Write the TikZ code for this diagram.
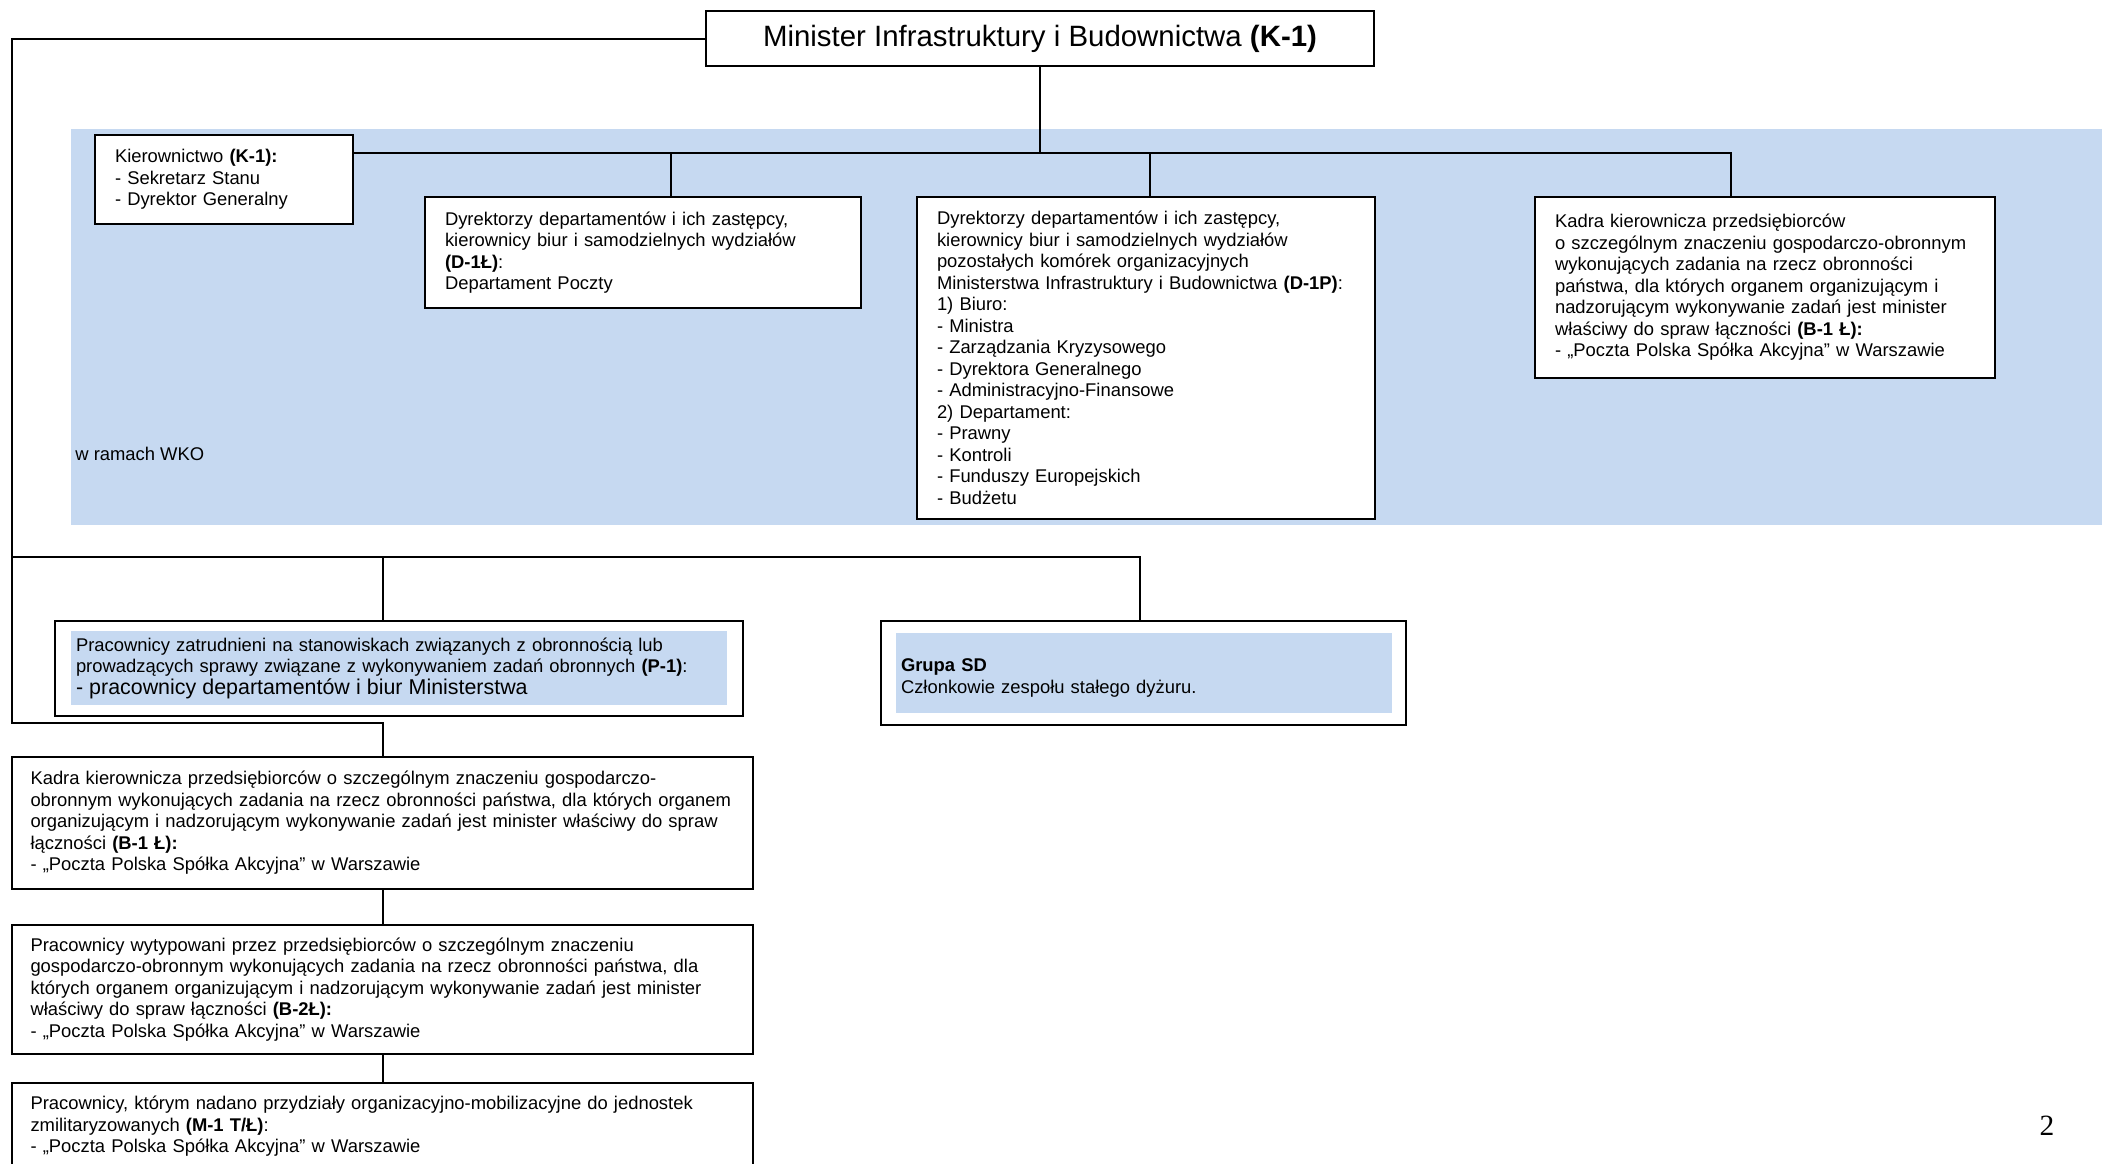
\documentclass[tikz,border=0pt]{standalone}
\usepackage{fontspec}
\setmainfont{Liberation Sans}
\newfontfamily\pagefont{Liberation Serif}
\usepackage{xcolor}
\usepackage{tikz}
\usetikzlibrary{positioning}

\definecolor{wkoblue}{RGB}{198,217,241}

\begin{document}
\begin{tikzpicture}[
		x=0.5pt, y=-0.5pt,
		headbox/.style={
			draw,
			line width=1.1pt,
			fill=white,
			anchor=north west,
			outer sep=0pt,
			minimum width=334pt,
			minimum height=27.5pt,
			inner sep=0pt,
			font=\fontsize{14.7}{17}\selectfont
		},
		orgbox/.style={
			draw,
			line width=1.1pt,
			fill=white,
			anchor=north west,
			outer sep=0pt,
			align=left,
			inner xsep=10pt,
			inner ysep=0pt,
			font=\fontsize{9.2}{10.75}\selectfont
		},
		bluebox/.style={
			fill=wkoblue,
			anchor=north west,
			outer sep=0pt,
			align=left,
			inner xsep=2.5pt,
			inner ysep=0pt,
			font=\fontsize{9.2}{10.75}\selectfont
		},
		link/.style={
			line width=1pt
		},
		node distance=18pt
		]
		
		\useasboundingbox (0,0) rectangle (2102,1163);
		\clip (0,0) rectangle (2102,1163);
		
		% obszar WKO
		\fill[wkoblue] (71,129) rectangle (2102,525);
		\node[anchor=west, inner sep=0pt, font=\fontsize{9.2}{10.75}\selectfont]
		(wko) at (75,454) {w ramach WKO};
		
		\node[headbox] at (706,11)
		(min) {Minister Infrastruktury i Budownictwa \textbf{(K-1)}};
		
		\node[orgbox, text width=109pt, minimum height=44.5pt] at (95,135)
		(kier) {Kierownictwo \textbf{(K-1):}\\
			- Sekretarz Stanu\\
			- Dyrektor Generalny};
		
		\node[orgbox, text width=198pt, minimum height=55.5pt] at (425,197)
		(d1l) {Dyrektorzy departamentów i ich zastępcy,\\
			kierownicy biur i samodzielnych wydziałów\\
			\textbf{(D-1Ł)}:\\
			Departament Poczty};
		
		\node[orgbox, text width=209pt, minimum height=161pt] at (917,197)
		(d1p) {Dyrektorzy departamentów i ich zastępcy,\\
			kierownicy biur i samodzielnych wydziałów\\
			pozostałych komórek organizacyjnych\\
			Ministerstwa Infrastruktury i Budownictwa \textbf{(D-1P)}:\\
			1) Biuro:\\
			- Ministra\\
			- Zarządzania Kryzysowego\\
			- Dyrektora Generalnego\\
			- Administracyjno-Finansowe\\
			2) Departament:\\
			- Prawny\\
			- Kontroli\\
			- Funduszy Europejskich\\
			- Budżetu};
		
		\node[orgbox, text width=210pt, minimum height=90.5pt] at (1535,197)
		(b1r) {Kadra kierownicza przedsiębiorców\\
			o szczególnym znaczeniu gospodarczo-obronnym\\
			wykonujących zadania na rzecz obronności\\
			państwa, dla których organem organizującym i\\
			nadzorującym wykonywanie zadań jest minister\\
			właściwy do spraw łączności \textbf{(B-1 Ł):}\\
			- „Poczta Polska Spółka Akcyjna” w Warszawie\\[3pt]};
		
		\node[orgbox, minimum width=344pt, minimum height=47.5pt, inner xsep=0pt] at (55,621)
		(p1) {};
		\node[bluebox, text width=323pt, minimum height=37pt] at (71,631)
		(p1txt) {Pracownicy zatrudnieni na stanowiskach związanych z obronnością lub\\
			prowadzących sprawy związane z wykonywaniem zadań obronnych \textbf{(P-1)}:\\
			{\fontsize{10.7}{11.5}\selectfont - pracownicy departamentów i biur Ministerstwa}};
		
		\node[orgbox, minimum width=262.5pt, minimum height=52pt, inner xsep=0pt] at (881,621)
		(sd) {};
		\node[bluebox, text width=243pt, minimum height=40pt] at (896,633)
		(sdtxt) {\rule{0pt}{11.5pt}\textbf{Grupa SD}\\
			Członkowie zespołu stałego dyżuru.};
		
		\node[orgbox, text width=352pt, inner xsep=9.25pt, minimum height=66pt] at (12,757)
		(b1l) {Kadra kierownicza przedsiębiorców o szczególnym znaczeniu gospodarczo-\\
			obronnym wykonujących zadania na rzecz obronności państwa, dla których organem\\
			organizującym i nadzorującym wykonywanie zadań jest minister właściwy do spraw\\
			łączności \textbf{(B-1 Ł):}\\
			- „Poczta Polska Spółka Akcyjna” w Warszawie};
		
		\node[orgbox, text width=352pt, inner xsep=9.25pt, minimum height=64.5pt, below=of b1l]
		(b2l) {Pracownicy wytypowani przez przedsiębiorców o szczególnym znaczeniu\\
			gospodarczo-obronnym wykonujących zadania na rzecz obronności państwa, dla\\
			których organem organizującym i nadzorującym wykonywanie zadań jest minister\\
			właściwy do spraw łączności \textbf{(B-2Ł):}\\
			- „Poczta Polska Spółka Akcyjna” w Warszawie};
		
		\node[orgbox, text width=352pt, inner xsep=9.25pt, minimum height=43.5pt, below=14.5pt of b2l]
		(m1) {Pracownicy, którym nadano przydziały organizacyjno-mobilizacyjne do jednostek\\
			zmilitaryzowanych \textbf{(M-1 T/Ł)}:\\
			- „Poczta Polska Spółka Akcyjna” w Warszawie};
		
		\node[font=\pagefont\fontsize{14.7}{17}\selectfont, inner sep=0pt] at (2047,1126)
		(page) {2};
		
		\coordinate (bus) at (1040,153);
		\coordinate (j1) at (671,153);
		\coordinate (j2) at (1150,153);
		\coordinate (j3) at (1731,153);
		\coordinate (rail) at (12,723);
		\coordinate (fork) at (12,557);
		\coordinate (p1drop) at (383,557);
		\coordinate (sddrop) at (1140,557);
		
		\draw[link] (min.south) -- (bus);
		\draw[link] (kier.east |- bus) -- (j3) -- (j3 |- b1r.north);
		\draw[link] (j1) -- (j1 |- d1l.north);
		\draw[link] (j2) -- (j2 |- d1p.north);
		
		\draw[link] (min.west) -| (rail) -| (b1l.north);
		\draw[link] (fork) -- (sddrop) -- (sddrop |- sd.north);
		\draw[link] (p1drop) -- (p1drop |- p1.north);
		\draw[link] (b1l) -- (b2l);
		\draw[link] (b2l) -- (m1);
		
		\end{tikzpicture}
\end{document}
